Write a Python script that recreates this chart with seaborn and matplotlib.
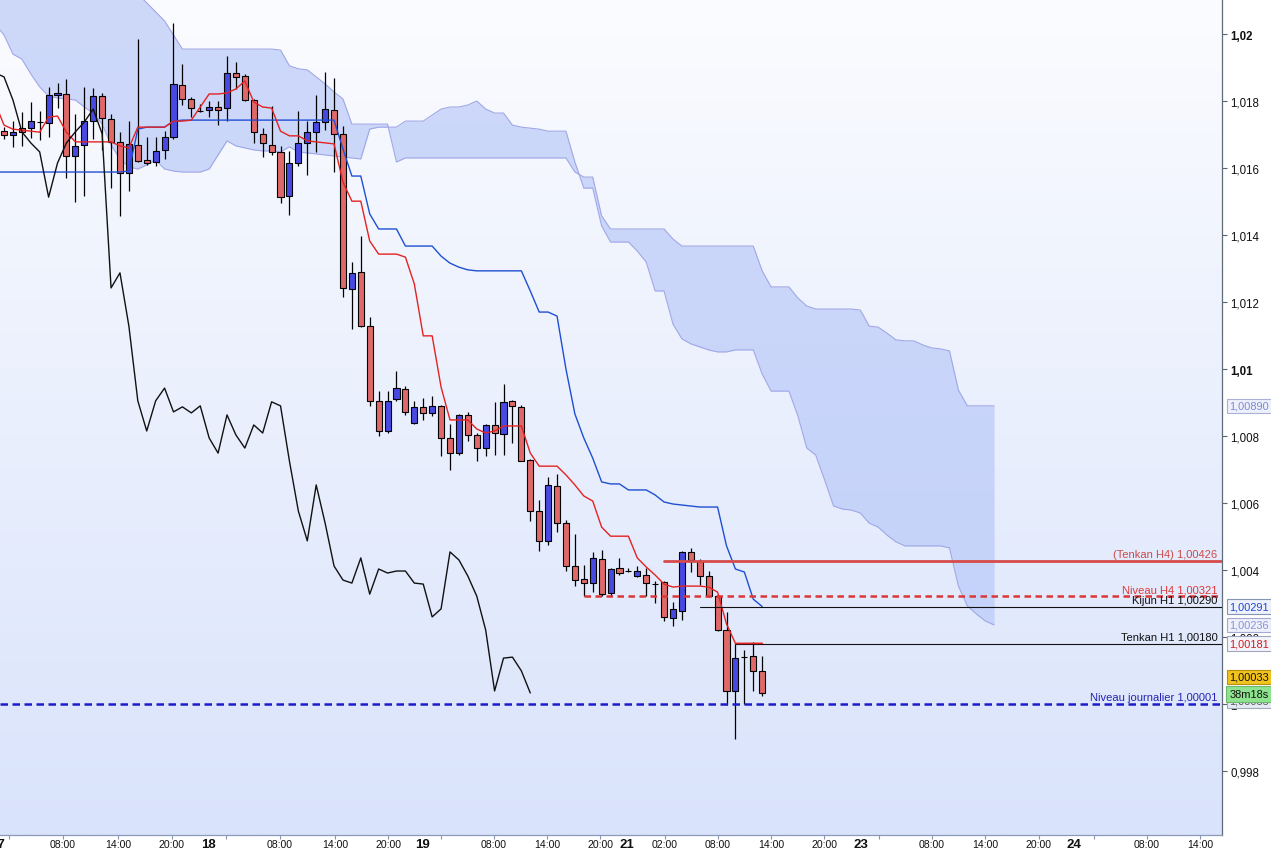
import numpy as np
import pandas as pd
import matplotlib
matplotlib.use("Agg")
import matplotlib.pyplot as plt
import matplotlib.transforms as mtrans
import seaborn as sns

# H1 candles, oldest first (bar 0 .. 85)
opens = [1.01711, 1.01698, 1.01719, 1.01719, 1.01737, 1.01734, 1.01818, 1.01821, 1.01636, 1.01669,
         1.01740, 1.01815, 1.01746, 1.01678, 1.01585, 1.01669, 1.01624, 1.01618, 1.01654, 1.01693,
         1.01848, 1.01806, 1.01770, 1.01773, 1.01782, 1.01779, 1.01884, 1.01875, 1.01803, 1.01702,
         1.01669, 1.01648, 1.01516, 1.01615, 1.01675, 1.01708, 1.01737, 1.01773, 1.01702, 1.01239,
         1.01290, 1.01128, 1.00905, 1.00815, 1.00911, 1.00940, 1.00839, 1.00887, 1.00869, 1.00890,
         1.00794, 1.00749, 1.00863, 1.00803, 1.00764, 1.00833, 1.00806, 1.00905, 1.00887, 1.00728,
         1.00576, 1.00487, 1.00651, 1.00540, 1.00412, 1.00373, 1.00361, 1.00433, 1.00331, 1.00406,
         1.00397, 1.00382, 1.00385, 1.00358, 1.00364, 1.00257, 1.00278, 1.00454, 1.00427, 1.00382,
         1.00322, 1.00221, 1.00039, 1.00140, 1.00143, 1.00099]
highs = [1.01722, 1.01740, 1.01767, 1.01797, 1.01770, 1.01842, 1.01854, 1.01866, 1.01761, 1.01842,
         1.01839, 1.01824, 1.01761, 1.01708, 1.01740, 1.01985, 1.01693, 1.01693, 1.01710, 1.02033,
         1.01910, 1.01812, 1.01791, 1.01800, 1.01800, 1.01934, 1.01916, 1.01881, 1.01806, 1.01719,
         1.01785, 1.01666, 1.01651, 1.01770, 1.01740, 1.01818, 1.01887, 1.01869, 1.01725, 1.01319,
         1.01397, 1.01155, 1.00934, 1.00934, 1.00994, 1.00949, 1.00905, 1.00913, 1.00919, 1.00892,
         1.00836, 1.00865, 1.00872, 1.00809, 1.00836, 1.00902, 1.00955, 1.00908, 1.00893, 1.00731,
         1.00609, 1.00678, 1.00687, 1.00549, 1.00507, 1.00415, 1.00454, 1.00460, 1.00406, 1.00436,
         1.00406, 1.00412, 1.00406, 1.00367, 1.00367, 1.00305, 1.00457, 1.00466, 1.00433, 1.00397,
         1.00324, 1.00275, 1.00179, 1.00161, 1.00185, 1.00143]
lows = [1.01687, 1.01663, 1.01666, 1.01690, 1.01684, 1.01693, 1.01779, 1.01570, 1.01498, 1.01516,
        1.01687, 1.01654, 1.01540, 1.01457, 1.01531, 1.01618, 1.01609, 1.01606, 1.01627, 1.01687,
        1.01788, 1.01752, 1.01767, 1.01752, 1.01728, 1.01740, 1.01836, 1.01800, 1.01675, 1.01633,
        1.01639, 1.01496, 1.01460, 1.01606, 1.01579, 1.01648, 1.01713, 1.01588, 1.01215, 1.01119,
        1.01125, 1.00890, 1.00800, 1.00809, 1.00905, 1.00863, 1.00836, 1.00848, 1.00860, 1.00740,
        1.00699, 1.00743, 1.00785, 1.00724, 1.00740, 1.00743, 1.00743, 1.00779, 1.00724, 1.00546,
        1.00457, 1.00475, 1.00513, 1.00397, 1.00352, 1.00322, 1.00334, 1.00322, 1.00322, 1.00385,
        1.00394, 1.00379, 1.00322, 1.00302, 1.00248, 1.00233, 1.00251, 1.00394, 1.00355, 1.00320,
        1.00218, 0.99997, 0.99896, 1.00000, 1.00039, 1.00024]
closes = [1.01698, 1.01708, 1.01708, 1.01740, 1.01737, 1.01818, 1.01824, 1.01636, 1.01666, 1.01740,
          1.01815, 1.01749, 1.01678, 1.01585, 1.01672, 1.01621, 1.01615, 1.01651, 1.01693, 1.01851,
          1.01806, 1.01779, 1.01770, 1.01782, 1.01773, 1.01884, 1.01872, 1.01803, 1.01708, 1.01675,
          1.01648, 1.01513, 1.01615, 1.01675, 1.01708, 1.01737, 1.01776, 1.01702, 1.01242, 1.01287,
          1.01128, 1.00905, 1.00815, 1.00905, 1.00943, 1.00872, 1.00887, 1.00869, 1.00890, 1.00794,
          1.00749, 1.00863, 1.00803, 1.00764, 1.00833, 1.00809, 1.00902, 1.00890, 1.00725, 1.00576,
          1.00487, 1.00654, 1.00540, 1.00412, 1.00370, 1.00361, 1.00436, 1.00328, 1.00403, 1.00391,
          1.00397, 1.00397, 1.00361, 1.00358, 1.00260, 1.00284, 1.00454, 1.00430, 1.00382, 1.00322,
          1.00221, 1.00039, 1.00137, 1.00140, 1.00099, 1.00033]

# Ichimoku lines, one value per bar starting at bar -1
tenkan = [1.01794, 1.01728, 1.01716, 1.01713, 1.01710, 1.01707, 1.01752, 1.01755, 1.01707, 1.01678,
          1.01678, 1.01678, 1.01678, 1.01678, 1.01666, 1.01660, 1.01722, 1.01722, 1.01722, 1.01722,
          1.01740, 1.01740, 1.01743, 1.01782, 1.01821, 1.01821, 1.01824, 1.01836, 1.01860, 1.01797,
          1.01782, 1.01779, 1.01710, 1.01696, 1.01696, 1.01681, 1.01678, 1.01675, 1.01672, 1.01558,
          1.01501, 1.01501, 1.01382, 1.01343, 1.01343, 1.01343, 1.01334, 1.01254, 1.01099, 1.01099,
          1.00946, 1.00848, 1.00848, 1.00848, 1.00821, 1.00809, 1.00815, 1.00830, 1.00830, 1.00830,
          1.00749, 1.00710, 1.00710, 1.00710, 1.00684, 1.00654, 1.00621, 1.00606, 1.00528, 1.00501,
          1.00501, 1.00501, 1.00436, 1.00409, 1.00385, 1.00358, 1.00349, 1.00352, 1.00352, 1.00352,
          1.00349, 1.00334, 1.00239, 1.00181, 1.00181, 1.00181, 1.00181]
kijun = [1.01588, 1.01588, 1.01588, 1.01588, 1.01588, 1.01588, 1.01588, 1.01588, 1.01588, 1.01588,
         1.01588, 1.01588, 1.01588, 1.01588, 1.01588, 1.01591, 1.01716, 1.01722, 1.01722, 1.01722,
         1.01740, 1.01743, 1.01743, 1.01743, 1.01743, 1.01743, 1.01743, 1.01743, 1.01743, 1.01743,
         1.01743, 1.01743, 1.01743, 1.01743, 1.01743, 1.01743, 1.01743, 1.01743, 1.01743, 1.01657,
         1.01576, 1.01576, 1.01463, 1.01418, 1.01418, 1.01418, 1.01367, 1.01367, 1.01367, 1.01367,
         1.01337, 1.01316, 1.01304, 1.01296, 1.01293, 1.01293, 1.01293, 1.01293, 1.01293, 1.01293,
         1.01233, 1.01170, 1.01170, 1.01158, 1.01000, 1.00866, 1.00794, 1.00734, 1.00663, 1.00657,
         1.00657, 1.00639, 1.00639, 1.00639, 1.00624, 1.00603, 1.00597, 1.00594, 1.00591, 1.00588,
         1.00588, 1.00588, 1.00472, 1.00403, 1.00394, 1.00313, 1.00291]
# cloud, bar -1 .. 111 (runs 26 bars past the last candle)
senkou_a = [1.02030, 1.01997, 1.01940, 1.01925, 1.01881, 1.01842, 1.01815, 1.01809, 1.01806, 1.01803,
            1.01782, 1.01764, 1.01731, 1.01669, 1.01627, 1.01603, 1.01597, 1.01609, 1.01624, 1.01597,
            1.01591, 1.01588, 1.01588, 1.01588, 1.01597, 1.01639, 1.01681, 1.01666, 1.01660, 1.01654,
            1.01651, 1.01651, 1.01648, 1.01663, 1.01648, 1.01645, 1.01642, 1.01639, 1.01636, 1.01633,
            1.01630, 1.01627, 1.01716, 1.01722, 1.01722,
            1.01722, 1.01740, 1.01740, 1.01740, 1.01758, 1.01776, 1.01782, 1.01782, 1.01788, 1.01800,
            1.01776, 1.01764, 1.01764, 1.01728, 1.01722, 1.01719, 1.01716, 1.01710, 1.01710, 1.01710,
            1.01618,
            1.01540, 1.01540, 1.01427, 1.01379, 1.01379, 1.01379, 1.01352, 1.01319, 1.01233, 1.01233,
            1.01134, 1.01090, 1.01075, 1.01066, 1.01057, 1.01051, 1.01051, 1.01057, 1.01057, 1.01057,
            1.00985, 1.00934, 1.00934, 1.00934, 1.00860, 1.00764, 1.00743, 1.00669, 1.00591, 1.00582,
            1.00579, 1.00570, 1.00540, 1.00528, 1.00504, 1.00484, 1.00472, 1.00472, 1.00472, 1.00472,
            1.00472, 1.00466, 1.00352, 1.00293, 1.00269, 1.00248, 1.00236]
senkou_b = [1.02179, 1.02179, 1.02179, 1.02179, 1.02179, 1.02179, 1.02179, 1.02179, 1.02179, 1.02179,
            1.02179, 1.02179, 1.02179, 1.02179, 1.02179, 1.02149, 1.02119, 1.02093, 1.02066, 1.02039,
            1.01997, 1.01955, 1.01955, 1.01955, 1.01955, 1.01955, 1.01955, 1.01955, 1.01955, 1.01955,
            1.01955, 1.01955, 1.01952, 1.01905, 1.01896, 1.01893, 1.01872, 1.01851, 1.01827, 1.01806,
            1.01731, 1.01731, 1.01731, 1.01731, 1.01731,
            1.01618, 1.01630, 1.01630, 1.01630, 1.01630, 1.01630, 1.01630, 1.01630, 1.01630, 1.01630,
            1.01630, 1.01630, 1.01630, 1.01630, 1.01630, 1.01630, 1.01630, 1.01630, 1.01630, 1.01630,
            1.01588,
            1.01573, 1.01573, 1.01457, 1.01418, 1.01418, 1.01418, 1.01418, 1.01418, 1.01418, 1.01418,
            1.01388, 1.01367, 1.01367, 1.01367, 1.01367, 1.01367, 1.01367, 1.01367, 1.01367, 1.01367,
            1.01293, 1.01245, 1.01245, 1.01245, 1.01212, 1.01188, 1.01179, 1.01179, 1.01179, 1.01179,
            1.01179, 1.01176, 1.01128, 1.01125, 1.01107, 1.01087, 1.01084, 1.01084, 1.01072, 1.01063,
            1.01060, 1.01054, 1.00937, 1.00890, 1.00890, 1.00890, 1.00890]

# horizontal levels
level_labels = ["(Tenkan H4) 1,00426", "Niveau H4 1,00321", "Kijun H1 1,00290",
                "Tenkan H1 1,00180", "Niveau journalier 1,00001"]
level_values = [1.00426, 1.00321, 1.00290, 1.00180, 1.00001]
level_from_bar = [74, 65, 78, 82, -1]

# time axis
tick_bars = [0.56, 6.61, 12.78, 18.83, 24.89, 30.94, 37.11, 43.05, 48.99, 54.93, 60.87, 66.82,
             74.10, 80.04, 85.99, 91.93, 98.09, 104.04, 109.98, 116.03, 122.20, 128.14, 134.08]
hour_labels = ["08:00", "14:00", "20:00", "08:00", "14:00", "20:00", "08:00", "14:00", "20:00",
               "02:00", "08:00", "14:00", "20:00", "08:00", "14:00", "20:00", "08:00", "14:00"]
hour_bars = [6.61, 12.78, 18.83, 30.94, 37.11, 43.05, 54.93, 60.87, 66.82,
             74.10, 80.04, 85.99, 91.93, 104.04, 109.98, 116.03, 128.14, 134.08]
day_labels = ["17", "18", "19", "21", "23", "24"]
day_bars = [-0.75, 22.87, 46.97, 69.84, 96.08, 119.96]

# price axis
price_ticks = [0.998, 1.000, 1.002, 1.004, 1.006, 1.008, 1.010, 1.012, 1.014, 1.016, 1.018, 1.020]
price_tick_labels = ["0,998", "1", "1,002", "1,004", "1,006", "1,008", "1,01", "1,012",
                     "1,014", "1,016", "1,018", "1,02"]
# boxes at the right of the price axis: text, price, text colour, face, edge
box_texts = ["1,00890", "1,00291", "1,00236", "1,00181", "1,00035", "1,00033", "38m18s"]
box_prices = [1.00890, 1.00291, 1.00236, 1.00181, 1.00009, 1.00081, 1.00030]
box_colors = ["#7d8bd0", "#2345d6", "#8a92d6", "#d01c1c", "#505860", "#111111", "#111111"]
box_faces = ["#eef1fb", "#eef2fc", "#eef0fb", "#f3f4fb", "#e6eaf2", "#f2c31c", "#8ee48e"]
box_edges = ["#a9b1d8", "#8795b5", "#a3aad0", "#a2a6bc", "#a0a8b8", "#b89010", "#6fb86f"]

sns.set_style("white")
plt.rcParams["font.family"] = ["Liberation Sans", "DejaVu Sans"]

n = len(closes)
bars = np.arange(n)
line_bars = np.arange(-1, -1 + len(tenkan))
cloud_bars = np.arange(-1, -1 + len(senkou_a))
xlim = (-0.45, 136.55)
ylim = (0.99609, 1.021045)

fig = plt.figure(figsize=(12.71, 8.53), dpi=100)
ax = fig.add_axes([0, 17 / 853, 1222 / 1271, 836 / 853])

# vertical background gradient
top = np.array([251, 252, 255]) / 255
bottom = np.array([217, 227, 251]) / 255
t = np.linspace(0, 1, 256)[:, None, None]
grad = top * (1 - t) + bottom * t
ax.imshow(grad, extent=[xlim[0], xlim[1], ylim[0], ylim[1]], aspect="auto",
          origin="upper", zorder=0, interpolation="bilinear")

# cloud
ax.fill_between(cloud_bars, senkou_a, senkou_b, color="#b8c8f8", alpha=0.68, lw=0, zorder=1)
ax.plot(cloud_bars, senkou_a, color="#a0a7e6", lw=0.8, zorder=1.5)
ax.plot(cloud_bars, senkou_b, color="#a0a7e6", lw=0.8, zorder=1.5)

# candles
o = np.array(opens)
c = np.array(closes)
up = c >= o
body_lo = np.minimum(o, c)
body_h = np.maximum(np.abs(c - o), 0.000003)
ax.vlines(bars, lows, highs, color="black", lw=0.9, zorder=3)
ax.bar(bars[up], body_h[up], bottom=body_lo[up], width=0.68, color="#4848e2",
       edgecolor="black", linewidth=0.8, zorder=4)
ax.bar(bars[~up], body_h[~up], bottom=body_lo[~up], width=0.68, color="#e06868",
       edgecolor="black", linewidth=0.8, zorder=4)

# Tenkan / Kijun / Chikou
lines = pd.DataFrame({"bar": line_bars, "tenkan": tenkan, "kijun": kijun})
sns.lineplot(data=lines, x="bar", y="kijun", ax=ax, color="#1f4fd2", lw=1.0,
             estimator=None, zorder=5)
sns.lineplot(data=lines, x="bar", y="tenkan", ax=ax, color="#e52222", lw=1.0,
             estimator=None, zorder=5)
chikou = pd.DataFrame({"bar": bars[25:] - 26, "close": closes[25:]})
sns.lineplot(data=chikou, x="bar", y="close", ax=ax, color="#111111", lw=1.0,
             estimator=None, zorder=5)

# levels
label_tr = mtrans.blended_transform_factory(ax.transAxes, ax.transData)
label_up = mtrans.offset_copy(label_tr, fig=fig, x=0, y=2, units="dots")
level_styles = [dict(color="#d64b4b", lw=2.0, ls="-"),
                dict(color="#dd3636", lw=1.8, ls=(0, (2.6, 1.8))),
                dict(color="#111111", lw=0.8, ls="-"),
                dict(color="#111111", lw=0.8, ls="-"),
                dict(color="#1c1ccc", lw=1.8, ls=(0, (3.0, 1.8)))]
level_text_colors = ["#cc4a4a", "#dd3a3a", "#111111", "#111111", "#2424b4"]
for name, val, start, st, tc in zip(level_labels, level_values, level_from_bar,
                                    level_styles, level_text_colors):
    x0 = xlim[0] if start < 0 else start
    ax.plot([x0, xlim[1]], [val, val], zorder=6, **st)
    ax.text(0.9962, val, name, transform=label_up, ha="right", va="bottom",
            fontsize=8, color=tc, zorder=7)
# short Tenkan H1 stub in red above the black level
ax.plot([82, 85], [tenkan[-1], tenkan[-1]], color="#e52222", lw=1.0, zorder=6.5)

ax.set_xlim(*xlim)
ax.set_ylim(*ylim)
ax.set_xlabel("")
ax.set_ylabel("")

# price axis on the right
ax.yaxis.tick_right()
ax.set_yticks(price_ticks)
ax.set_yticklabels(price_tick_labels)
ax.tick_params(axis="y", which="major", right=True, left=False, length=3.5, width=0.8,
               color="#5a6470", labelsize=8.3, pad=2.5, labelcolor="#111111")
for lab in ax.get_yticklabels():
    if lab.get_text() in ("1,02", "1,01"):
        lab.set_fontweight("bold")

# time axis
ax.set_xticks(tick_bars)
ax.set_xticklabels([])
ax.tick_params(axis="x", which="major", bottom=True, length=3, width=0.8, color="#8a96a8")
time_tr = mtrans.blended_transform_factory(ax.transData, ax.transAxes)
time_lab = mtrans.offset_copy(time_tr, fig=fig, x=0, y=-9, units="dots")
for b, txt in zip(hour_bars, hour_labels):
    ax.text(b, 0, txt, transform=time_lab, ha="center", va="center", fontsize=7.6,
            color="#111111", clip_on=False)
for b, txt in zip(day_bars, day_labels):
    ax.text(b, 0, txt, transform=time_lab, ha="center", va="center", fontsize=9.5,
            fontweight="bold", color="#111111", clip_on=False)

for side in ("top", "left"):
    ax.spines[side].set_visible(False)
ax.spines["right"].set_color("#5f6b78")
ax.spines["right"].set_linewidth(0.9)
ax.spines["bottom"].set_color("#8a9ab8")
ax.spines["bottom"].set_linewidth(0.9)

# price boxes
box_tr = mtrans.blended_transform_factory(ax.transAxes, ax.transData)
for txt, p, tc, fc, ec in zip(box_texts, box_prices, box_colors, box_faces, box_edges):
    pad = 0.3 if txt.endswith("s") else 0.2
    ax.text(1.0062, p, txt, transform=box_tr, ha="left", va="center", fontsize=7.9,
            color=tc, clip_on=False, zorder=10,
            bbox=dict(boxstyle=f"square,pad={pad}", fc=fc, ec=ec, lw=0.8))

fig.savefig("out.png", dpi=100, facecolor="white")
